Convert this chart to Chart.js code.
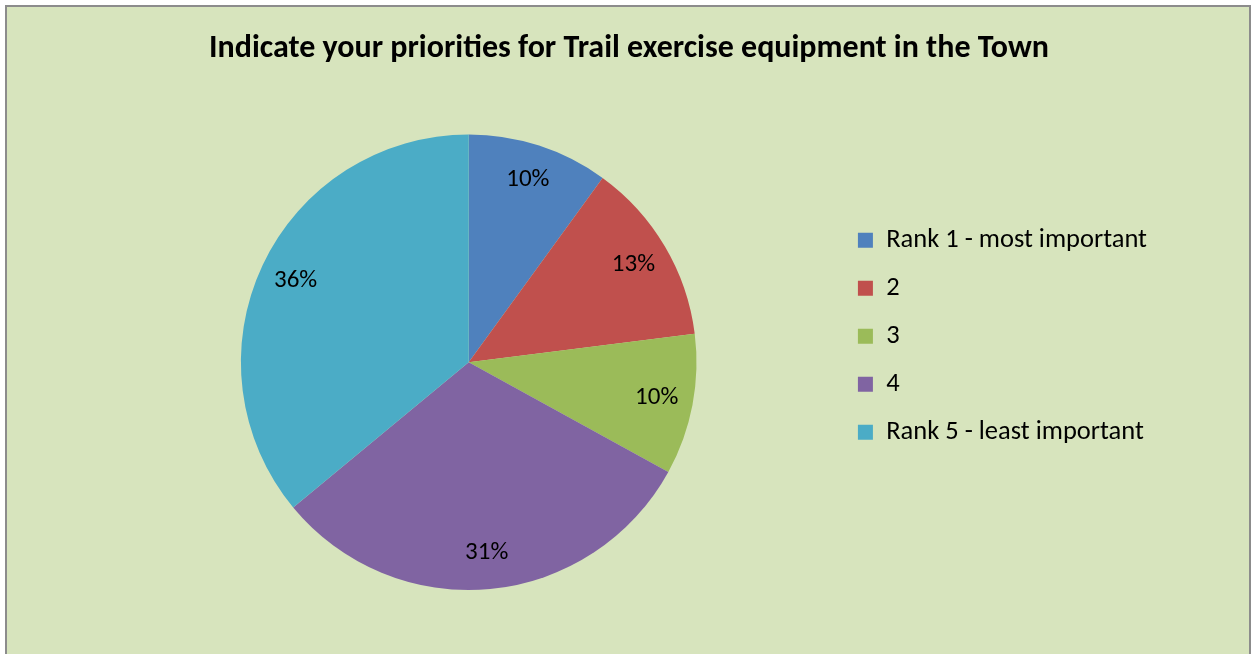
<!DOCTYPE html>
<html>
<head>
<meta charset="utf-8">
<script src="https://cdn.jsdelivr.net/npm/chart.js@4/dist/chart.umd.min.js"></script>
<style>
  html, body { margin: 0; padding: 0; background: #ffffff; }
  #wrap {
    position: absolute; left: 5px; top: 5px; width: 1246px; height: 660px;
    background: #d7e4bd; border: 2px solid #8c8c8c; box-sizing: border-box;
  }
  canvas { display: block; }
</style>
</head>
<body>
<div id="wrap"><canvas id="myChart" width="1242" height="647"></canvas></div>
<script>
const labels = ['Rank 1 - most important', '2', '3', '4', 'Rank 5 - least important']
const values = [10, 13, 10, 31, 36]
const colors = ['#4f81bd', '#c0504d', '#9bbb59', '#8064a2', '#4bacc6']
const titleText = 'Indicate your priorities for Trail exercise equipment in the Town'
const fontFamily = "Carlito, Calibri, 'Open Sans', sans-serif"

// percentage labels inside the slices
const sliceLabels = {
    id: 'sliceLabels',
    afterDatasetsDraw(chart) {
        const ctx = chart.ctx
        const meta = chart.getDatasetMeta(0)
        const total = values.reduce((a, b) => a + b, 0)
        ctx.save()
        ctx.font = '25px ' + fontFamily
        ctx.fillStyle = '#000'
        ctx.textAlign = 'center'
        ctx.textBaseline = 'middle'
        meta.data.forEach((arc, i) => {
            const mid = (arc.startAngle + arc.endAngle) / 2
            const r = arc.outerRadius * 0.84
            const x = arc.x + Math.cos(mid) * r
            const y = arc.y + Math.sin(mid) * r
            ctx.fillText(Math.round(values[i] / total * 100) + '%', x, y)
        })
        ctx.restore()
    }
}

// legend sits a bit above the middle of the plot, like the original
const legendShift = {
    id: 'legendShift',
    afterLayout(chart) {
        chart.legend.top -= 26
        chart.legend.bottom -= 26
    }
}

const ctx = document.getElementById('myChart').getContext('2d')
window.myChart = new Chart(ctx, {
    type: 'pie',
    data: {
        labels: labels,
        datasets: [{
            data: values,
            backgroundColor: colors,
            borderWidth: 0
        }]
    },
    options: {
        responsive: false,
        animation: false,
        layout: { padding: { left: 94, right: 92, top: 0, bottom: 64 } },
        plugins: {
            title: {
                display: true,
                text: titleText,
                color: '#000',
                font: { family: fontFamily, size: 32, weight: 'bold' },
                padding: { top: 23, bottom: 66 }
            },
            legend: {
                position: 'right',
                fullSize: false,
                labels: {
                    color: '#000',
                    font: { family: fontFamily, size: 26.5 },
                    boxWidth: 15,
                    boxHeight: 15,
                    padding: 21.5
                }
            },
            tooltip: { enabled: false }
        }
    },
    plugins: [sliceLabels, legendShift]
})
</script>
</body>
</html>
